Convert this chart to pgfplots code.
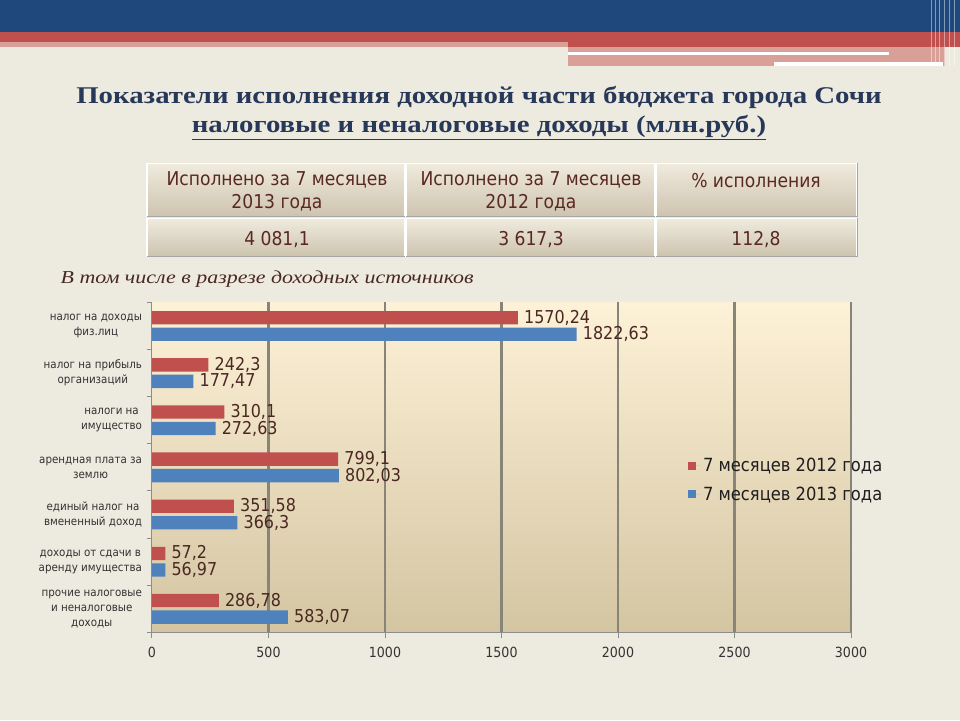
\documentclass[border=0pt]{standalone}
\usepackage{pgfplots}
\pgfplotsset{compat=1.18}
\usepackage{fontspec}
\setmainfont{DejaVu Sans}
\newfontfamily\tah[FakeStretch=0.9]{DejaVu Sans}
\newfontfamily\titlefont[FakeStretch=1.2]{Liberation Serif}

\definecolor{pagebg}{RGB}{237,235,224}
\definecolor{hdrblue}{RGB}{31,73,125}
\definecolor{hdrred}{RGB}{192,80,77}
\definecolor{hdrpink}{RGB}{217,160,152}
\definecolor{barred}{RGB}{192,80,77}
\definecolor{barblue}{RGB}{79,129,189}
\definecolor{lblbrown}{RGB}{74,40,34}
\definecolor{titleblue}{RGB}{40,56,88}
\definecolor{gridgray}{RGB}{135,132,120}
\definecolor{axisgray}{RGB}{140,140,140}
\definecolor{celltop}{RGB}{240,235,222}
\definecolor{cellbot}{RGB}{205,195,175}
\definecolor{celltext}{RGB}{90,40,34}
\definecolor{plottop}{RGB}{253,241,215}
\definecolor{plotmid}{RGB}{244,231,203}
\definecolor{plotbot}{RGB}{212,197,162}
\definecolor{labelgray}{RGB}{50,50,50}
\definecolor{legendtext}{RGB}{30,30,30}

\begin{document}
\begin{tikzpicture}
% page decoration, drawn in pixel units (y downwards)
\begin{scope}[x=0.75pt, y=-0.75pt, shift={(0pt,540pt)}]
  \fill[pagebg] (0,0) rectangle (960,720);
  \fill[hdrblue] (0,0) rectangle (960,32);
  \fill[hdrred] (0,32) rectangle (960,42);
  \fill[hdrpink] (0,42) rectangle (568,47);
  \fill[hdrred] (568,42) rectangle (960,47);
  \fill[hdrpink] (568,47) rectangle (945,66);
  \fill[white] (568,52) rectangle (889,55);
  \fill[white] (774,62) rectangle (943,66);
  \foreach \vx in {931,935,939,944,949,954}
    \draw[white, opacity=0.45, line width=0.6pt] (\vx,0) -- (\vx,66);

  \node[font=\titlefont\bfseries\fontsize{18}{20}\selectfont, text=titleblue] at (479,97)
    {Показатели исполнения доходной части бюджета города Сочи};
  \node[font=\titlefont\bfseries\fontsize{18}{20}\selectfont, text=titleblue] at (479,127)
    {\underline{налоговые и неналоговые доходы (млн.руб.)}};

  % summary table
  \foreach \xa/\xb in {147/405, 406/655, 656/857} {
    \shade[top color=celltop, bottom color=cellbot] (\xa,163) rectangle (\xb,216);
    \shade[top color=celltop, bottom color=cellbot] (\xa,218) rectangle (\xb,256);
    \draw[white, line width=1pt] (\xa,163) rectangle (\xb,216);
    \draw[white, line width=1pt] (\xa,218) rectangle (\xb,256);
    \draw[gray!70, line width=0.6pt] (\xa,216) -- (\xb,216) -- (\xb,163);
    \draw[gray!70, line width=0.6pt] (\xa,256) -- (\xb,256) -- (\xb,218);
  }
  \begin{scope}[every node/.style={font=\tah\fontsize{14.3}{17}\selectfont, text=celltext, align=center}]
    \node at (277,191) {Исполнено за 7 месяцев\\2013 года};
    \node at (531,191) {Исполнено за 7 месяцев\\2012 года};
    \node at (756,180) {\% исполнения};
    \node at (277,239) {4 081,1};
    \node at (531,239) {3 617,3};
    \node at (756,239) {112,8};
  \end{scope}

  \node[anchor=west, font=\titlefont\itshape\fontsize{13.7}{15}\selectfont, text=lblbrown] at (56,279)
    {В том числе в разрезе доходных источников};
\end{scope}

\begin{axis}[
  at={(114pt,66pt)}, anchor=south west,
  scale only axis, width=524.25pt, height=247.5pt,
  xbar, bar width=10pt,
  xmin=0, xmax=3000, ymin=-0.5, ymax=6.5,
  axis background/.style={shade, top color=plottop, middle color=plotmid, bottom color=plotbot},
  axis lines*=left,
  axis line style={draw=axisgray, line width=0.75pt, -},
  xtick={500,1000,...,3000},
  extra x ticks={0}, extra x tick style={grid=none},
  xmajorgrids, grid style={draw=gridgray, line width=2.2pt},
  tick align=outside, major tick length=4pt, minor tick length=4pt,
  x tick style={draw=axisgray, line width=0.75pt},
  ytick={0,...,6},
  major y tick style={draw=none},
  minor ytick={-0.5,0.5,...,6.5},
  minor y tick style={draw=axisgray, line width=0.75pt},
  yticklabels={{прочие налоговые\\и неналоговые\\доходы},
               {доходы от сдачи в\\аренду имущества},
               {единый налог на\\вмененный доход},
               {арендная плата за\\землю},
               {налоги на\\имущество},
               {налог на прибыль\\организаций},
               {налог на доходы\\физ.лиц}},
  y tick label style={align=center, font=\tah\fontsize{8.6}{11.25}\selectfont, text=labelgray},
  x tick label style={font=\tah\fontsize{10.5}{12}\selectfont, text=labelgray, yshift=-3.5pt},
  /pgf/number format/assume math mode=true,
  /pgf/number format/use comma,
  /pgf/number format/1000 sep={},
  nodes near coords,
  nodes near coords align={horizontal},
  every node near coord/.append style={font=\tah\fontsize{13.3}{15}\selectfont, text=lblbrown, inner sep=2pt, xshift=2.5pt},
  legend style={at={(0.767,0.462)}, anchor=west, draw=none, fill=none,
    font=\tah\fontsize{13.6}{15}\selectfont, text=legendtext, row sep=6pt, inner sep=0pt},
  legend cell align=left,
]
\addplot[fill=barred, draw=none, bar shift=6.2pt,
  legend image code/.code={\fill[barred] (0pt,-3pt) rectangle (6pt,3pt); \path (0pt,0pt) -- (9pt,0pt);}]
  coordinates {(1570.24,6) (242.3,5) (310.1,4) (799.1,3) (351.58,2) (57.2,1) (286.78,0)};
\addplot[fill=barblue, draw=none, bar shift=-6.2pt,
  legend image code/.code={\fill[barblue] (0pt,-3pt) rectangle (6pt,3pt); \path (0pt,0pt) -- (9pt,0pt);}]
  coordinates {(1822.63,6) (177.47,5) (272.63,4) (802.03,3) (366.3,2) (56.97,1) (583.07,0)};
\legend{7 месяцев 2012 года, 7 месяцев 2013 года}
\end{axis}
\end{tikzpicture}
\end{document}
